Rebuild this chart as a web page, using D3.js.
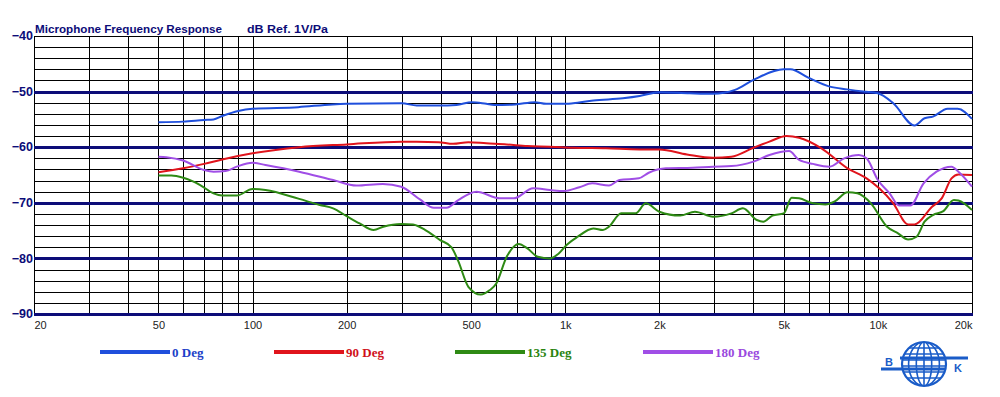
<!DOCTYPE html>
<html>
<head>
<meta charset="utf-8">
<script src="https://cdn.jsdelivr.net/npm/d3@7"></script>
<style>
  body { margin: 0; background: #fff; }
  svg { display: block; }
</style>
</head>
<body>
<div id="chart"></div>
<script>
// readings (Hz, dB)
var freq0 = [50, 60, 70, 75, 80, 90, 100, 140, 180, 200, 300, 335, 394, 449, 503, 559, 593, 692, 799, 869, 1010, 1060, 1230, 1530, 1730, 2000, 2500, 2970, 3490, 4000, 5000, 5250, 5990, 7020, 7980, 8980, 10000, 11200, 13100, 14100, 15000, 16700, 18000, 20000];
var db0 = [-55.5, -55.4, -55.1, -55.0, -54.4, -53.5, -53.1, -52.8, -52.3, -52.2, -52.1, -52.5, -52.5, -52.4, -51.9, -52.2, -52.4, -52.3, -51.9, -52.2, -52.2, -52.1, -51.6, -51.2, -50.8, -50.1, -50.3, -50.4, -49.7, -47.9, -46.0, -46.0, -47.5, -49.1, -49.6, -50.0, -50.3, -52.1, -56.1, -54.8, -54.5, -53.1, -53.1, -54.9];

var freq90 = [50, 60, 70, 80, 100, 141, 200, 300, 335, 394, 438, 490, 559, 650, 757, 894, 1060, 1350, 1730, 2000, 2450, 2970, 3400, 4000, 4500, 5100, 5600, 6600, 8000, 9200, 10100, 11200, 12500, 13100, 14900, 16000, 17200, 18100, 20000];
var db90 = [-64.5, -63.8, -63.0, -62.2, -61.1, -60.0, -59.5, -59.0, -59.0, -59.1, -59.4, -59.1, -59.3, -59.5, -59.8, -59.9, -60.1, -60.2, -60.4, -60.4, -61.3, -61.9, -61.7, -60.1, -59.0, -58.0, -58.3, -60.2, -63.8, -65.6, -67.4, -70.1, -73.9, -73.9, -70.7, -69.2, -65.6, -64.9, -65.0];

var freq135 = [50, 55, 60, 68, 75, 80, 89, 100, 110, 141, 164, 181, 200, 220, 244, 262, 299, 326, 357, 398, 433, 455, 490, 537, 574, 602, 650, 710, 757, 817, 894, 950, 1010, 1090, 1230, 1320, 1380, 1510, 1680, 1810, 2000, 2330, 2600, 2970, 3400, 3700, 4100, 4300, 4600, 5000, 5300, 5600, 6200, 6800, 7300, 8000, 8600, 9500, 10700, 11600, 12500, 13300, 14100, 15000, 16200, 17500, 18100, 20000];
var db135 = [-65.1, -65.1, -65.5, -66.8, -68.3, -68.7, -68.7, -67.5, -67.7, -69.3, -70.4, -71.0, -72.4, -73.7, -74.9, -74.3, -73.8, -73.9, -74.9, -76.7, -78.0, -80.5, -85.1, -86.5, -85.7, -84.5, -79.7, -77.4, -78.2, -79.7, -80.0, -79.2, -77.6, -76.2, -74.6, -74.9, -74.3, -71.9, -71.9, -70.1, -71.6, -72.3, -71.6, -72.5, -71.9, -71.0, -73.1, -73.4, -72.3, -71.9, -69.1, -69.2, -70.1, -70.3, -69.7, -68.1, -68.3, -70.1, -74.3, -75.5, -76.6, -76.1, -73.4, -72.2, -71.5, -69.5, -69.6, -71.3];

var freq180 = [50, 53, 60, 70, 75, 82, 89, 100, 110, 141, 181, 215, 261, 299, 343, 380, 417, 455, 520, 618, 684, 790, 894, 990, 1110, 1220, 1380, 1490, 1720, 1850, 2100, 2560, 2970, 3400, 4000, 4500, 5200, 5600, 6200, 7000, 7800, 8700, 9200, 10000, 10900, 11700, 12700, 14000, 15400, 17200, 18100, 20000];
var db180 = [-61.7, -61.8, -62.4, -64.1, -64.4, -64.3, -63.5, -62.8, -63.2, -64.4, -65.9, -66.9, -66.6, -67.1, -69.4, -70.9, -70.9, -69.5, -68.0, -69.2, -69.2, -67.4, -67.7, -67.9, -67.2, -66.5, -66.9, -65.9, -65.6, -64.6, -63.8, -63.7, -63.5, -63.4, -62.6, -61.4, -60.7, -62.3, -63.0, -63.5, -62.0, -61.4, -62.0, -65.9, -68.3, -70.5, -70.5, -66.5, -64.4, -63.5, -64.4, -67.1];

var seriesNames = ["0 Deg", "90 Deg", "135 Deg", "180 Deg"];
var seriesColors = ["#1f4fdc", "#e0141c", "#2e8a14", "#a04ee6"];
var labelColors = ["#1c40c8", "#d0101a", "#2a8410", "#9a48de"];

var xTicks = [20, 50, 100, 200, 500, 1000, 2000, 5000, 10000, 20000];
var xTickLabels = ["20", "50", "100", "200", "500", "1k", "2k", "5k", "10k", "20k"];
var yTicks = [-40, -50, -60, -70, -80, -90];

var width = 1000, height = 397;
var navy = "#0c0c78";

var svg = d3.select("#chart").append("svg")
    .attr("width", width).attr("height", height);
svg.append("rect").attr("width", width).attr("height", height).attr("fill", "#fff");

var x = d3.scaleLog().domain([20, 20000]).range([34, 972]);
var y = d3.scaleLinear().domain([-90, -40]).range([314, 36]);

// grid: 1-2-3..9 per decade
var vLines = [];
[10, 100, 1000, 10000].forEach(function(dec) {
    for (var k = 1; k < 10; k++) {
        var f = dec * k;
        if (f >= 20 && f <= 20000) vLines.push(f);
    }
});
var grid = svg.append("g").attr("shape-rendering", "crispEdges");
grid.selectAll("line.v").data(vLines).enter().append("line")
    .attr("x1", function(d) { return Math.round(x(d)) + 0.5; })
    .attr("x2", function(d) { return Math.round(x(d)) + 0.5; })
    .attr("y1", y(-40)).attr("y2", y(-90))
    .attr("stroke", "#000").attr("stroke-width", 1);

var hLines = d3.range(-88, -39, 2).filter(function(d) { return d % 10 !== 0 || d === -40; });
grid.selectAll("line.h").data(hLines).enter().append("line")
    .attr("x1", x(20)).attr("x2", x(20000))
    .attr("y1", function(d) { return Math.round(y(d)) + 0.5; })
    .attr("y2", function(d) { return Math.round(y(d)) + 0.5; })
    .attr("stroke", "#000").attr("stroke-width", 1);

grid.selectAll("line.major").data([-50, -60, -70, -80, -90]).enter().append("line")
    .attr("x1", x(20)).attr("x2", x(20000) + 1)
    .attr("y1", function(d) { return Math.round(y(d)); })
    .attr("y2", function(d) { return Math.round(y(d)); })
    .attr("stroke", navy).attr("stroke-width", 3);

// axes labels
var xAxis = svg.append("g").attr("transform", "translate(0,318)")
    .call(d3.axisBottom(x).tickValues(xTicks).tickSize(0)
        .tickFormat(function(d, i) { return xTickLabels[i]; }));
xAxis.select(".domain").remove();
xAxis.selectAll("text")
    .attr("font-family", "Liberation Sans, Arial, sans-serif")
    .attr("font-size", "11px").attr("fill", "#222").attr("dy", "0.71em").attr("y", 3)
    .attr("text-anchor", function(d) { return d === 20 ? "start" : d === 20000 ? "end" : "middle"; });

var yAxis = svg.append("g").attr("transform", "translate(33,0)")
    .call(d3.axisLeft(y).tickValues(yTicks).tickSize(0));
yAxis.select(".domain").remove();
yAxis.selectAll("text")
    .attr("font-family", "Liberation Sans, Arial, sans-serif")
    .attr("font-size", "12.5px").attr("font-weight", "bold").attr("fill", navy)
    .attr("x", 0).attr("dy", "0.3em");

// title
svg.append("text").attr("x", 35).attr("y", 33)
    .attr("font-family", "Liberation Sans, Arial, sans-serif").attr("font-weight", "bold")
    .attr("font-size", "11.5px").attr("fill", navy)
    .attr("textLength", 187).attr("lengthAdjust", "spacingAndGlyphs")
    .text("Microphone Frequency Response");
svg.append("text").attr("x", 247).attr("y", 33)
    .attr("font-family", "Liberation Sans, Arial, sans-serif").attr("font-weight", "bold")
    .attr("font-size", "11.5px").attr("fill", navy)
    .attr("textLength", 81).attr("lengthAdjust", "spacingAndGlyphs")
    .text("dB Ref. 1V/Pa");

// curves
var series = [
    { f: freq0, v: db0 },
    { f: freq90, v: db90 },
    { f: freq135, v: db135 },
    { f: freq180, v: db180 }
];
var line = d3.line()
    .x(function(d) { return x(d[0]); })
    .y(function(d) { return y(d[1]); })
    .curve(d3.curveMonotoneX);

svg.append("g").selectAll("path").data(series).enter().append("path")
    .attr("d", function(s) { return line(d3.zip(s.f, s.v)); })
    .attr("fill", "none")
    .attr("stroke", function(s, i) { return seriesColors[i]; })
    .attr("stroke-width", 2)
    .attr("stroke-linejoin", "round");

// legend
var legX = [100, 274, 455, 643];
var leg = svg.append("g").selectAll("g").data(seriesNames).enter().append("g")
    .attr("transform", function(d, i) { return "translate(" + legX[i] + ",352)"; });
leg.append("line").attr("x1", 0).attr("x2", 70).attr("y1", 0).attr("y2", 0)
    .attr("stroke", function(d, i) { return seriesColors[i]; }).attr("stroke-width", 4);
leg.append("text").attr("x", 72).attr("y", 5)
    .attr("font-family", "Liberation Serif, Times New Roman, serif").attr("font-weight", "bold")
    .attr("font-size", "13px")
    .attr("fill", function(d, i) { return labelColors[i]; })
    .text(function(d) { return d; });

// B&K logo
var logoBlue = "#1a5cc8";
var cx = 924, cy = 364, r = 22;
var logo = svg.append("g");
logo.append("clipPath").attr("id", "globe").append("circle").attr("cx", cx).attr("cy", cy).attr("r", r);
logo.append("circle").attr("cx", cx).attr("cy", cy).attr("r", r)
    .attr("fill", "#fff").attr("stroke", logoBlue).attr("stroke-width", 2.2);
var g2 = logo.append("g").attr("clip-path", "url(#globe)")
    .attr("stroke", logoBlue).attr("fill", "none").attr("stroke-width", 1.6);
[0.35, 0.7].forEach(function(k) {
    g2.append("ellipse").attr("cx", cx).attr("cy", cy).attr("rx", r * k).attr("ry", r);
});
g2.append("line").attr("x1", cx).attr("x2", cx).attr("y1", cy - r).attr("y2", cy + r);
[-16, -10, -4, 2, 8, 14].forEach(function(dy) {
    g2.append("line").attr("x1", cx - r).attr("x2", cx + r).attr("y1", cy + dy).attr("y2", cy + dy);
});
logo.append("line").attr("x1", 900).attr("x2", 968).attr("y1", 358).attr("y2", 358)
    .attr("stroke", logoBlue).attr("stroke-width", 3);
logo.append("line").attr("x1", 881).attr("x2", 946).attr("y1", 369).attr("y2", 369)
    .attr("stroke", logoBlue).attr("stroke-width", 3);
logo.append("text").attr("x", 885).attr("y", 366)
    .attr("font-family", "Liberation Sans, Arial, sans-serif").attr("font-weight", "bold")
    .attr("font-size", "11px").attr("fill", logoBlue).text("B");
logo.append("text").attr("x", 954).attr("y", 372)
    .attr("font-family", "Liberation Sans, Arial, sans-serif").attr("font-weight", "bold")
    .attr("font-size", "11px").attr("fill", logoBlue).text("K");
</script>
</body>
</html>
